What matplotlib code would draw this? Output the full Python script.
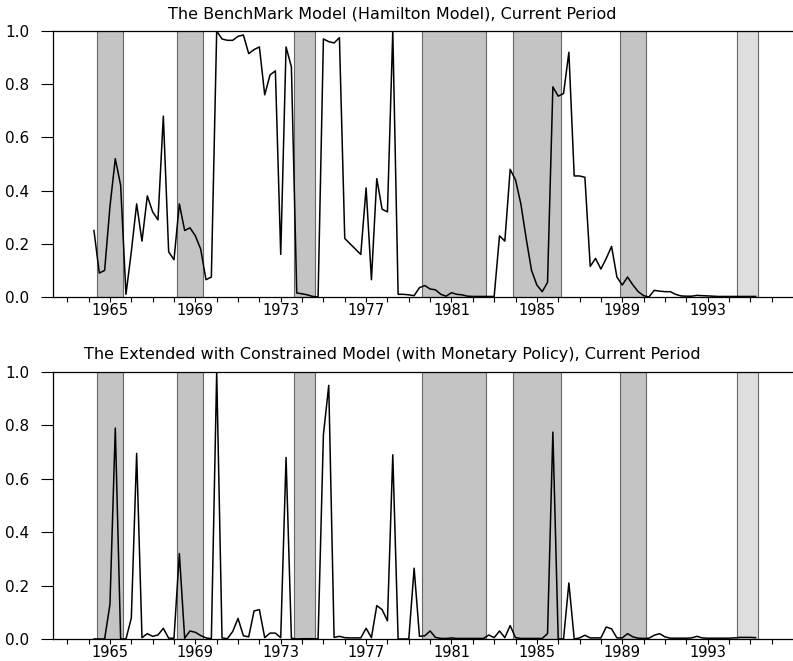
import numpy as np
import matplotlib.pyplot as plt

plt.rcParams['font.family'] = ['DejaVu Sans']

# quarterly probabilities, first quarter 1964Q2
start = 1964.25
benchmark = [0.25, 0.09, 0.10, 0.34, 0.52, 0.42, 0.01, 0.17, 0.35, 0.21,
             0.38, 0.32, 0.29, 0.68, 0.17, 0.14, 0.35, 0.25, 0.26, 0.23,
             0.18, 0.065, 0.075, 1.0, 0.97, 0.965, 0.965, 0.98, 0.985, 0.915,
             0.93, 0.94, 0.76, 0.835, 0.85, 0.16, 0.94, 0.865, 0.015, 0.012,
             0.008, 0.002, 0.0, 0.97, 0.96, 0.955, 0.975, 0.22, 0.20, 0.18,
             0.16, 0.41, 0.065, 0.445, 0.33, 0.32, 1.0, 0.01, 0.01, 0.008,
             0.005, 0.035, 0.043, 0.03, 0.027, 0.01, 0.003, 0.016, 0.01, 0.008,
             0.003, 0.002, 0.002, 0.002, 0.002, 0.002, 0.23, 0.21, 0.48, 0.44,
             0.35, 0.22, 0.10, 0.045, 0.02, 0.055, 0.79, 0.755, 0.765, 0.92,
             0.455, 0.455, 0.45, 0.115, 0.145, 0.105, 0.145, 0.19, 0.075, 0.045,
             0.075, 0.045, 0.02, 0.005, 0.0, 0.025, 0.022, 0.02, 0.02, 0.01,
             0.004, 0.003, 0.003, 0.006, 0.005, 0.004, 0.003, 0.002, 0.002, 0.002,
             0.002, 0.002, 0.002, 0.002, 0.002]
extended = [0.0, 0.0, 0.0, 0.13, 0.79, 0.0, 0.0, 0.078, 0.695, 0.005,
            0.02, 0.01, 0.015, 0.04, 0.003, 0.003, 0.32, 0.003, 0.03, 0.025,
            0.013, 0.004, 0.001, 1.0, 0.004, 0.001, 0.028, 0.077, 0.012, 0.008,
            0.105, 0.11, 0.005, 0.022, 0.022, 0.005, 0.68, 0.003, 0.0, 0.001,
            0.001, 0.001, 0.0, 0.765, 0.95, 0.006, 0.01, 0.005, 0.004, 0.004,
            0.004, 0.04, 0.005, 0.125, 0.11, 0.068, 0.69, 0.0, 0.0, 0.0,
            0.265, 0.01, 0.012, 0.03, 0.006, 0.002, 0.002, 0.004, 0.002, 0.002,
            0.002, 0.002, 0.002, 0.002, 0.015, 0.005, 0.03, 0.005, 0.05, 0.005,
            0.002, 0.002, 0.002, 0.002, 0.002, 0.02, 0.775, 0.0, 0.0, 0.21,
            0.0, 0.004, 0.014, 0.004, 0.004, 0.004, 0.045, 0.038, 0.004, 0.004,
            0.02, 0.008, 0.003, 0.002, 0.003, 0.014, 0.02, 0.008, 0.003, 0.003,
            0.003, 0.003, 0.004, 0.01, 0.004, 0.003, 0.003, 0.003, 0.003, 0.003,
            0.004, 0.006, 0.006, 0.006, 0.005]

# shaded periods
shade_start = [1964.375, 1968.125, 1973.625, 1979.625, 1983.875, 1988.875, 1994.375]
shade_end = [1965.625, 1969.375, 1974.625, 1982.625, 1986.125, 1990.125, 1995.375]
shade_color = ['#c4c4c4'] * 6 + ['#dedede']

titles = ["The BenchMark Model (Hamilton Model), Current Period",
          "The Extended with Constrained Model (with Monetary Policy), Current Period"]
year_ticks = list(range(1965, 1994, 4))

t = start + 0.25 * np.arange(len(benchmark))

fig = plt.figure(figsize=(7.93, 6.61), dpi=100)
ax1 = fig.add_axes([0.0668, 0.5507, 0.9332, 0.4024])
ax2 = fig.add_axes([0.0668, 0.0333, 0.9332, 0.4039])

for ax, series, title, ty in [(ax1, benchmark, titles[0], 0.979),
                              (ax2, extended, titles[1], 0.463)]:
    for s0, s1, c in zip(shade_start, shade_end, shade_color):
        ax.axvspan(s0, s1, facecolor=c, edgecolor='#666666', linewidth=0.8)
    ax.plot(t, series, color='black', linewidth=1.1)
    ax.set_xlim(1962.33, 1997.0)
    ax.set_ylim(0, 1.0)
    ax.set_xticks(year_ticks)
    ax.set_xticks(range(1963, 1997), minor=True)
    ax.set_yticks(np.arange(0, 1.01, 0.2))
    ax.set_yticklabels(['%.1f' % v for v in np.arange(0, 1.01, 0.2)])
    ax.tick_params(axis='x', which='both', direction='out', length=3.5, width=0.8,
                   labelsize=10.5, pad=1)
    ax.tick_params(axis='y', direction='out', length=9, width=0.8,
                   labelsize=11, pad=8)
    ax.spines['right'].set_visible(False)
    for sp in ['left', 'top', 'bottom']:
        ax.spines[sp].set_linewidth(0.9)
    fig.text(0.495, ty, title, ha='center', va='center', fontsize=11.5)

fig.savefig('out.png', dpi=100)
